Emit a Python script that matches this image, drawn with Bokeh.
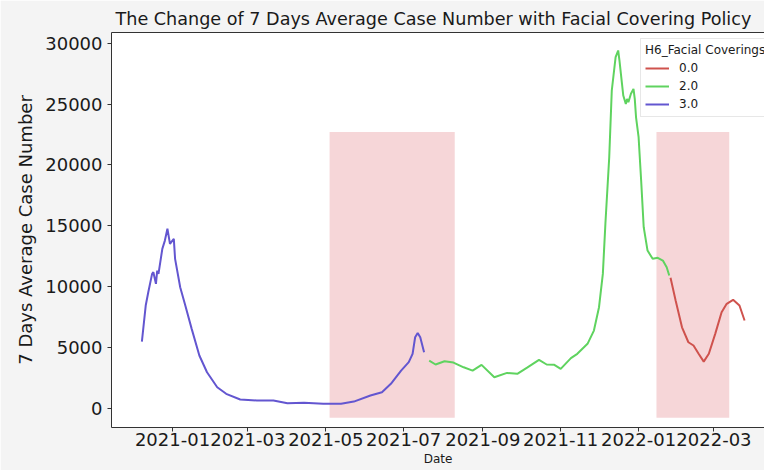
import pandas as pd
from bokeh.plotting import figure
from bokeh.models import (Range1d, LinearAxis, FixedTicker, Legend, LegendItem,
                          DatetimeTickFormatter)
from bokeh.embed import file_html
from bokeh.resources import INLINE

# ---------------- data ----------------
cov3_dates = ["2020-12-08", "2020-12-11", "2020-12-13", "2020-12-16", "2020-12-17",
              "2020-12-19", "2020-12-20", "2020-12-21", "2020-12-24", "2020-12-26",
              "2020-12-28", "2020-12-30", "2020-12-31", "2021-01-02", "2021-01-03",
              "2021-01-07", "2021-01-11", "2021-01-16", "2021-01-22", "2021-01-28",
              "2021-02-05", "2021-02-12", "2021-02-23", "2021-03-08", "2021-03-21",
              "2021-04-01", "2021-04-14", "2021-04-29", "2021-05-13", "2021-05-23",
              "2021-06-05", "2021-06-14", "2021-06-21", "2021-06-29", "2021-07-05",
              "2021-07-08", "2021-07-10", "2021-07-12", "2021-07-14", "2021-07-17"]
cov3_vals = [5470, 8430, 9520, 11030, 11170,
             10210, 11300, 11030, 13090, 13770,
             14740, 13500, 13640, 13910, 12270,
             9930, 8430, 6510, 4320, 2940,
             1710, 1170, 700, 620, 620,
             400, 430, 350, 350, 530,
             1030, 1300, 1990, 3080, 3770,
             4460, 5820, 6180, 5820, 4590]

cov2_dates = ["2021-07-21", "2021-07-26", "2021-08-02", "2021-08-09", "2021-08-17",
              "2021-08-24", "2021-08-31", "2021-09-10", "2021-09-20", "2021-09-28",
              "2021-10-06", "2021-10-15", "2021-10-21", "2021-10-27", "2021-11-01",
              "2021-11-09", "2021-11-14", "2021-11-22", "2021-11-27", "2021-12-01",
              "2021-12-04", "2021-12-06", "2021-12-09", "2021-12-11", "2021-12-14",
              "2021-12-16", "2021-12-17", "2021-12-19", "2021-12-20", "2021-12-22",
              "2021-12-23", "2021-12-24", "2021-12-26", "2021-12-28", "2021-12-29",
              "2021-12-30", "2022-01-01", "2022-01-03", "2022-01-05", "2022-01-08",
              "2022-01-12", "2022-01-16", "2022-01-20", "2022-01-23", "2022-01-25"]
cov2_vals = [3900, 3580, 3850, 3740, 3350,
             3080, 3550, 2530, 2890, 2810,
             3350, 3960, 3580, 3550, 3220,
             4100, 4460, 5280, 6370, 8290,
             11030, 15150, 20620, 26110, 28850,
             29400, 28580, 26660, 25700, 25010,
             25420, 25150, 25840, 26240, 25420,
             23910, 22270, 18710, 14870, 12950,
             12270, 12350, 12130, 11580, 10900]

cov0_dates = ["2022-01-26", "2022-01-30", "2022-02-04", "2022-02-09", "2022-02-13",
              "2022-02-17", "2022-02-21", "2022-02-25", "2022-03-02", "2022-03-07",
              "2022-03-11", "2022-03-16", "2022-03-21", "2022-03-25"]
cov0_vals = [10710, 8840, 6640, 5410, 5140,
             4460, 3820, 4460, 6100, 7880,
             8570, 8900, 8430, 7200]

shade_start = ["2021-05-04", "2022-01-15"]
shade_end = ["2021-08-10", "2022-03-13"]
shade_bottom = [-800, -800]
shade_top = [22700, 22700]

xtick_dates = ["2021-01-01", "2021-03-01", "2021-05-01", "2021-07-01",
               "2021-09-01", "2021-11-01", "2022-01-01", "2022-03-01"]
ytick_vals = [0, 5000, 10000, 15000, 20000, 25000, 30000]

legend_title = "H6_Facial Coverings"
level_labels = ["0.0", "2.0", "3.0"]
level_colors = ["#cf524d", "#5fd35f", "#6356d0"]

FONT = "DejaVu Sans"

# ---------------- figure ----------------
x_start = pd.Timestamp("2020-11-14 04:48")
x_end = pd.Timestamp("2022-04-09 14:24")

p = figure(width=764, height=470, x_axis_type="datetime",
           x_range=Range1d(x_start, x_end), y_range=Range1d(-1600, 30880),
           output_backend="svg", toolbar_location=None,
           min_border_left=111, min_border_right=0, min_border_top=32,
           min_border_bottom=43)

p.background_fill_color = "white"
p.border_fill_color = "#f4f4f4"
p.outline_line_color = None
p.xgrid.visible = False
p.ygrid.visible = False

# shaded policy periods
p.quad(left=pd.to_datetime(shade_start), right=pd.to_datetime(shade_end),
       bottom=shade_bottom, top=shade_top,
       fill_color="#f6d6d8", line_color=None)

r0 = p.line(pd.to_datetime(cov0_dates), cov0_vals, line_color=level_colors[0], line_width=2)
r2 = p.line(pd.to_datetime(cov2_dates), cov2_vals, line_color=level_colors[1], line_width=2)
r3 = p.line(pd.to_datetime(cov3_dates), cov3_vals, line_color=level_colors[2], line_width=2)

# axes
xt = [int(v) for v in (pd.to_datetime(xtick_dates).astype("int64") // 10**6)]
p.xaxis.ticker = FixedTicker(ticks=xt)
p.xaxis.formatter = DatetimeTickFormatter(days="%Y-%m", months="%Y-%m", years="%Y-%m")
p.yaxis.ticker = FixedTicker(ticks=ytick_vals)

for ax in (p.xaxis[0], p.yaxis[0]):
    ax.axis_line_color = "#333333"
    ax.major_tick_line_color = "#333333"
    ax.minor_tick_line_color = None
    ax.major_tick_out = 4
    ax.major_tick_in = 0
    ax.major_label_text_font = FONT
    ax.major_label_text_font_size = "18px"
    ax.major_label_text_color = "#1a1a1a"

p.yaxis.major_label_standoff = 5
p.yaxis.axis_label = "7 Days Average Case Number"
p.yaxis.axis_label_text_font = FONT
p.yaxis.axis_label_text_font_size = "18px"
p.yaxis.axis_label_text_font_style = "normal"
p.yaxis.axis_label_text_color = "#1a1a1a"
p.yaxis.axis_label_standoff = 6

p.xaxis.major_label_standoff = 1
p.xaxis.axis_label = "Date"
p.xaxis.axis_label_text_font = FONT
p.xaxis.axis_label_text_font_size = "12px"
p.xaxis.axis_label_text_font_style = "normal"
p.xaxis.axis_label_text_color = "#1a1a1a"
p.xaxis.axis_label_standoff = 3

# top spine
top_axis = LinearAxis(ticker=FixedTicker(ticks=[]), axis_line_color="#333333",
                      major_tick_out=0, major_tick_in=0, minor_tick_out=0, minor_tick_in=0,
                      major_label_text_font_size="0px", major_label_standoff=0)
p.add_layout(top_axis, "above")

# title
p.title.text = "The Change of 7 Days Average Case Number with Facial Covering Policy"
p.title.text_font = FONT
p.title.text_font_size = "17.6px"
p.title.text_font_style = "normal"
p.title.text_color = "#1a1a1a"
p.title.align = "left"
p.title.offset = 4
p.title.standoff = 7

# legend
legend = Legend(items=[LegendItem(label=level_labels[0], renderers=[r0]),
                       LegendItem(label=level_labels[1], renderers=[r2]),
                       LegendItem(label=level_labels[2], renderers=[r3])],
                title=legend_title, location=(529, 310))
legend.title_text_font = FONT
legend.title_text_font_size = "12px"
legend.title_text_font_style = "normal"
legend.title_text_color = "#1a1a1a"
legend.title_standoff = 3
legend.label_text_font = FONT
legend.label_text_font_size = "12px"
legend.label_text_color = "#1a1a1a"
legend.label_height = 16
legend.glyph_height = 16
legend.glyph_width = 24
legend.label_standoff = 10
legend.spacing = 2
legend.padding = 4
legend.margin = 0
legend.border_line_color = "#d0d0d0"
legend.background_fill_color = "white"
legend.background_fill_alpha = 0.85
p.add_layout(legend)

open("out.html", "w").write(file_html(p, INLINE))
